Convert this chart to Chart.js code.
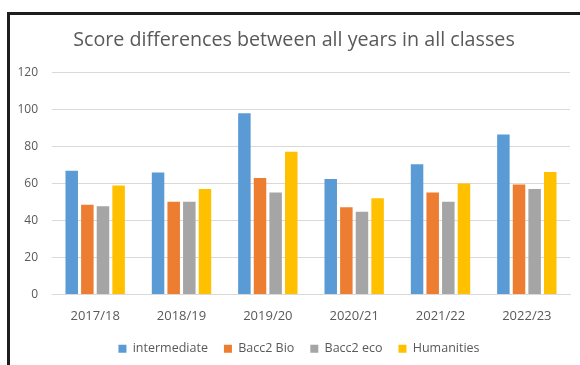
<!DOCTYPE html>
<html>
<head>
<meta charset="utf-8">
<script src="https://cdn.jsdelivr.net/npm/chart.js@4/dist/chart.umd.min.js"></script>
<style>
  html, body { margin: 0; padding: 0; background: #fff; }
  #wrap { position: relative; width: 580px; height: 365px; overflow: hidden; }
  #frame { position: absolute; left: 7px; top: 12px; width: 600px; height: 400px;
           border-left: 3px solid #1e1e1e; border-top: 3px solid #1e1e1e; pointer-events: none; }
  canvas { position: absolute; left: 0; top: 0; }
</style>
</head>
<body>
<div id="wrap">
  <canvas id="c" width="580" height="365"></canvas>
  <div id="frame"></div>
</div>
<script>
const titleText = "Score differences between all years in all classes";
const categories = ["2017/18", "2018/19", "2019/20", "2020/21", "2021/22", "2022/23"];
const seriesNames = ["intermediate", "Bacc2 Bio", "Bacc2 eco", "Humanities"];
const intermediate = [67, 66, 98, 62.5, 70.5, 86.5];
const bacc2Bio = [48.5, 50.2, 63, 47.2, 55.2, 59.5];
const bacc2Eco = [47.8, 50.2, 55.2, 44.8, 50.2, 57];
const humanities = [59, 57, 77.2, 52, 60, 66.2];
const yTicks = [0, 20, 40, 60, 80, 100, 120];
const colors = ["#5B9BD5", "#ED7D31", "#A5A5A5", "#FFC000"];

const values = [intermediate, bacc2Bio, bacc2Eco, humanities];
const FONT = "'Open Sans', sans-serif";

const shiftLegend = {
  id: 'shiftLegend',
  afterLayout(chart) {
    if (chart.legend) { chart.legend.left += 5; chart.legend.right += 5; }
  }
};

new Chart(document.getElementById('c'), {
  type: 'bar',
  data: {
    labels: categories,
    datasets: seriesNames.map((n, i) => ({
      label: n,
      data: values[i],
      backgroundColor: colors[i],
      borderWidth: 0,
      categoryPercentage: 0.724,
      barPercentage: 0.8
    }))
  },
  plugins: [shiftLegend],
  options: {
    responsive: false,
    animation: false,
    devicePixelRatio: 1,
    layout: { padding: { left: 18, right: 10, top: 15, bottom: 0 } },
    plugins: {
      title: {
        display: true,
        text: titleText,
        color: '#595959',
        font: { family: FONT, size: 19.7, weight: 'normal' },
        padding: { top: 14, bottom: 20 }
      },
      legend: {
        position: 'bottom',
        labels: {
          boxWidth: 8, boxHeight: 8, padding: 16,
          color: '#595959',
          font: { family: FONT, size: 12.5 }
        }
      },
      tooltip: { enabled: false }
    },
    scales: {
      x: {
        grid: { display: false, drawTicks: false },
        border: { display: true, color: '#d9d9d9', width: 1 },
        ticks: { color: '#595959', font: { family: FONT, size: 13 }, padding: 14 },
        afterFit: (s) => { s.height = 32; }
      },
      y: {
        min: 0, max: 120,
        afterBuildTicks: (s) => { s.ticks = yTicks.map(v => ({ value: v })); },
        grid: { color: '#d9d9d9', lineWidth: 1, drawTicks: false },
        border: { display: false },
        ticks: { color: '#595959', font: { family: FONT, size: 12 }, padding: 14 },
        afterFit: (s) => { s.width = 34; }
      }
    }
  }
});
</script>
</body>
</html>
